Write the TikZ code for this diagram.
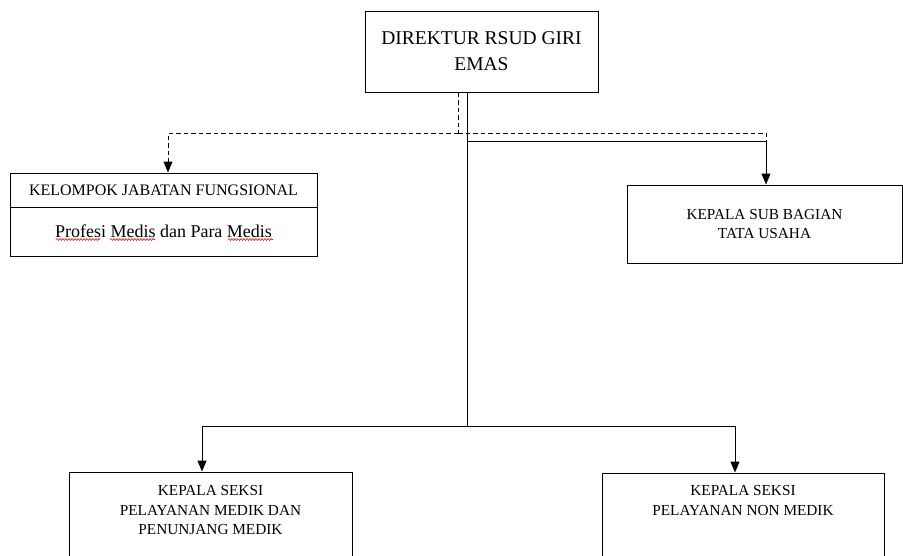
\documentclass[tikz,border=0pt]{standalone}
\usepackage{fontspec}
\setmainfont{Liberation Serif}
\usetikzlibrary{arrows.meta,decorations.pathmorphing}
\begin{document}
\begin{tikzpicture}[x=1pt,y=1pt,
  box/.style={draw, line width=1pt, inner sep=0pt},
  lbl/.style={align=center, inner sep=0pt},
  conn/.style={line width=1pt},
  dconn/.style={line width=1pt, dash pattern=on 4.5pt off 3pt},
  arr/.style={-{Triangle[width=9pt,length=11pt]}},
  wave/.style={red, line width=0.6pt, decorate, decoration={snake, amplitude=0.9pt, segment length=3pt}}]
\useasboundingbox (0,0) rectangle (903,-555);

% boxes
\node[box, minimum width=233, minimum height=81, align=center,
      font=\fontsize{19.5}{26}\selectfont] (dir) at (481.5,-51.5) {DIREKTUR RSUD GIRI\\EMAS};
\node[box, minimum width=307, minimum height=34, font=\fontsize{16}{19}\selectfont] (kelA) at (163.5,-190) {KELOMPOK JABATAN FUNGSIONAL};
\node[box, minimum width=307, minimum height=49, font=\fontsize{18}{22}\selectfont] (kelB) at (163.5,-231.5) {Profesi Medis dan Para Medis};
\node[box, minimum width=275, minimum height=78, align=center,
      font=\fontsize{15.3}{19}\selectfont] (tu) at (764.5,-224) {KEPALA SUB BAGIAN\\TATA USAHA};
\node[box, minimum width=283, minimum height=100] (pm) at (210.5,-522) {};
\node[lbl, font=\fontsize{15.3}{19.5}\selectfont] (pmt) at (210.5,-510.5) {KEPALA SEKSI\\PELAYANAN MEDIK DAN\\PENUNJANG MEDIK};
\node[box, minimum width=282, minimum height=100] (nm) at (743,-523) {};
\node[lbl, font=\fontsize{15.3}{20}\selectfont] (nmt) at (743,-501) {KEPALA SEKSI\\PELAYANAN NON MEDIK};

% spell-check squiggles
\draw[wave] (56,-239.5) -- (100,-239.5);
\draw[wave] (110,-239.5) -- (155,-239.5);
\draw[wave] (228,-239.5) -- (273,-239.5);

% junction points
\coordinate (j1) at (467,-426);
\coordinate (pmx) at (202,-426);
\coordinate (nmx) at (735,-426);
\coordinate (t1) at (467,-141);
\coordinate (t2) at (766,-141);
\coordinate (d1) at (458,-133);
\coordinate (dl) at (168,-133);
\coordinate (dr) at (766,-133);

% solid lines
\draw[conn] (dir.south -| j1) -- (j1);
\draw[conn,arr] (j1) -- (pmx) -- (pmx |- pm.north);
\draw[conn,arr] (j1) -- (nmx) -- (nmx |- nm.north);
\draw[conn,arr] (t1) -- (t2) -- (t2 |- tu.north);

% dashed lines
\draw[dconn] (dir.south -| d1) -- (d1);
\draw[dconn,arr] (d1) -- (dl) -- (dl |- kelA.north);
\draw[dconn] (d1) -- (dr) -- (t2);
\end{tikzpicture}
\end{document}
